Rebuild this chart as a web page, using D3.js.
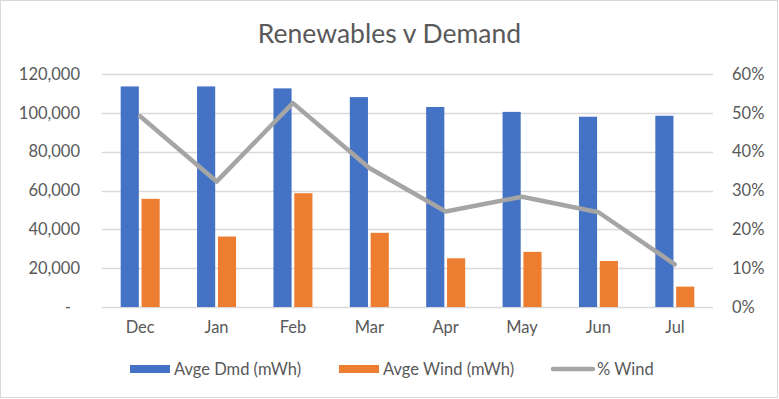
<!DOCTYPE html>
<html>
<head>
<meta charset="utf-8">
<script src="https://cdn.jsdelivr.net/npm/d3@7"></script>
<style>
  body { margin: 0; background: #fff; }
  text { font-family: Lato, "Open Sans", sans-serif; fill: #595959; }
</style>
</head>
<body>
<svg id="chart"></svg>
<script>
// chart data
const months = ["Dec", "Jan", "Feb", "Mar", "Apr", "May", "Jun", "Jul"];
const avgeDemand = [113600, 113600, 112600, 108100, 103000, 100500, 98000, 98500];
const avgeWind = [55700, 36300, 58600, 38200, 25100, 28400, 23700, 10500];
const pctWind = [0.491, 0.323, 0.525, 0.358, 0.246, 0.284, 0.244, 0.110];
const leftTicks = [0, 20000, 40000, 60000, 80000, 100000, 120000];
const rightTicks = [0, 0.1, 0.2, 0.3, 0.4, 0.5, 0.6];
const seriesNames = ["Avge Dmd (mWh)", "Avge Wind (mWh)", "% Wind"];

const width = 779, height = 399;
const margin = {top: 74, right: 66, bottom: 92, left: 102};
const innerW = width - margin.left - margin.right;
const innerH = height - margin.top - margin.bottom;

const colors = {dmd: "#4472c4", wind: "#ed7d31", pct: "#a5a5a5"};

const svg = d3.select("#chart")
    .attr("width", width)
    .attr("height", height);

// outer border
svg.append("rect")
    .attr("x", 0.5).attr("y", 0.5)
    .attr("width", width - 2).attr("height", height - 2)
    .attr("fill", "#fff")
    .attr("stroke", "#d9d9d9");

svg.append("text")
    .attr("x", width / 2)
    .attr("y", 43)
    .attr("text-anchor", "middle")
    .style("font-size", "26.5px")
    .text("Renewables v Demand");

const chart = svg.append("g")
    .attr("transform", `translate(${margin.left},${margin.top})`);

const x = d3.scaleBand().domain(months).range([0, innerW]);
const x1 = d3.scaleBand().domain(["dmd", "wind"])
    .range([x.bandwidth() / 2 - 19.5, x.bandwidth() / 2 + 19.5])
    .paddingInner(0.13);
const yL = d3.scaleLinear().domain([0, 120000]).range([innerH, 0]);
const yR = d3.scaleLinear().domain([0, 0.6]).range([innerH, 0]);

// gridlines
chart.append("g")
    .selectAll("line")
    .data(leftTicks)
    .join("line")
    .attr("x1", 0).attr("x2", innerW)
    .attr("y1", d => Math.round(yL(d)) + 0.5)
    .attr("y2", d => Math.round(yL(d)) + 0.5)
    .attr("stroke", "#d9d9d9")
    .attr("stroke-width", 1.3);

// left axis
const leftAxis = d3.axisLeft(yL).tickValues(leftTicks).tickSize(0).tickPadding(22)
    .tickFormat(d => d === 0 ? "-" : d3.format(",")(d));
chart.append("g").call(leftAxis)
    .call(g => g.select(".domain").remove())
    .selectAll("text").style("font-size", "16.5px").attr("fill", "#595959")
    .attr("dx", d => d === 0 ? -9 : 0);

// right axis
const rightAxis = d3.axisRight(yR).tickValues(rightTicks).tickSize(0).tickPadding(19)
    .tickFormat(d3.format(".0%"));
chart.append("g").attr("transform", `translate(${innerW},0)`).call(rightAxis)
    .call(g => g.select(".domain").remove())
    .selectAll("text").style("font-size", "16.5px").attr("fill", "#595959");

// bottom axis
const bottomAxis = d3.axisBottom(x).tickSize(0).tickPadding(14);
chart.append("g").attr("transform", `translate(0,${innerH})`).call(bottomAxis)
    .call(g => g.select(".domain").remove())
    .selectAll("text").style("font-size", "16.5px").attr("fill", "#595959");

// bars
const rows = months.map((m, i) => ({month: m, dmd: avgeDemand[i], wind: avgeWind[i]}));
chart.append("g")
    .selectAll("g")
    .data(rows)
    .join("g")
    .attr("transform", d => `translate(${x(d.month)},0)`)
    .selectAll("rect")
    .data(d => ["dmd", "wind"].map(k => ({key: k, value: d[k]})))
    .join("rect")
    .attr("x", d => x1(d.key))
    .attr("width", x1.bandwidth())
    .attr("y", d => yL(d.value))
    .attr("height", d => innerH - yL(d.value))
    .attr("fill", d => colors[d.key]);

// % wind line
const line = d3.line()
    .x((d, i) => x(months[i]) + x.bandwidth() / 2)
    .y(d => yR(d));
chart.append("path")
    .datum(pctWind)
    .attr("d", line)
    .attr("fill", "none")
    .attr("stroke", colors.pct)
    .attr("stroke-width", 4.5)
    .attr("stroke-linejoin", "round")
    .attr("stroke-linecap", "round");

// legend
const legend = svg.append("g").attr("transform", "translate(0,369)");
const legendItems = [
    {name: seriesNames[0], x: 130, text: 174, type: "rect", color: colors.dmd},
    {name: seriesNames[1], x: 339, text: 383, type: "rect", color: colors.wind},
    {name: seriesNames[2], x: 551, text: 597, type: "line", color: colors.pct}
];
legendItems.forEach(it => {
    if (it.type === "rect") {
        legend.append("rect")
            .attr("x", it.x).attr("y", -4)
            .attr("width", 40).attr("height", 8)
            .attr("fill", it.color);
    } else {
        legend.append("line")
            .attr("x1", it.x + 2).attr("x2", it.x + 42)
            .attr("y1", 0).attr("y2", 0)
            .attr("stroke", it.color)
            .attr("stroke-width", 4.5)
            .attr("stroke-linecap", "round");
    }
    legend.append("text")
        .attr("x", it.text)
        .attr("y", 6)
        .style("font-size", "16.5px")
        .text(it.name);
});
</script>
</body>
</html>
